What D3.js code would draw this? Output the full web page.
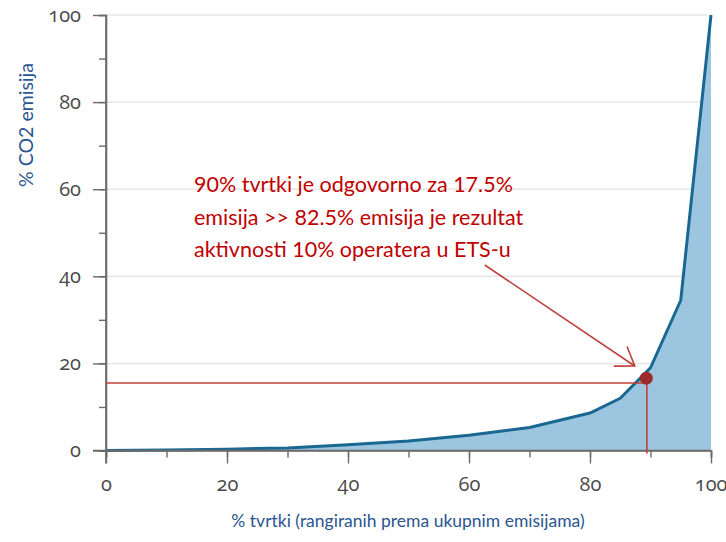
<!DOCTYPE html>
<html>
<head>
<meta charset="utf-8">
<script src="https://cdn.jsdelivr.net/npm/d3@7"></script>
<style>
  body { margin: 0; background: #fff; }
  svg { display: block; }
</style>
</head>
<body>
<div id="chart"></div>
<script>
// podaci (ocitani sa slike)
var pctTvrtki = [0, 10, 20, 30, 40, 50, 60, 70, 80, 85, 90, 95, 100];
var pctEmisija = [0, 0.1, 0.3, 0.6, 1.3, 2.2, 3.5, 5.3, 8.6, 12, 19, 34.5, 100];
var xTicks = [0, 20, 40, 60, 80, 100];
var yTicks = [0, 20, 40, 60, 80, 100];
var markPoint = [89.3, 16.6];
var refX = 89.4, refY = 15.5;
var arrowFrom = [62.6, 42.6];
var arrowTo = [87.4, 19.4];
var noteLines = ["90% tvrtki je odgovorno za 17.5%",
                 "emisija >> 82.5% emisija je rezultat",
                 "aktivnosti 10% operatera u ETS-u"];

var W = 726, H = 542;
var margin = {top: 15, right: 15, bottom: 91.5, left: 106};

var svg = d3.select("#chart").append("svg")
    .attr("width", W)
    .attr("height", H);

var x = d3.scaleLinear().domain([0, 100]).range([margin.left, W - margin.right]);
var y = d3.scaleLinear().domain([0, 100]).range([H - margin.bottom, margin.top]);

// mreza
svg.append("g")
    .selectAll("line")
    .data(yTicks.filter(function (d) { return d > 0; }))
    .enter()
    .append("line")
    .attr("x1", x(0))
    .attr("x2", x(100) - 4)
    .attr("y1", function (d) { return y(d); })
    .attr("y2", function (d) { return y(d); })
    .attr("stroke", "#e6e6e6")
    .attr("stroke-width", 1.5);

// povrsina i krivulja
var pts = pctTvrtki.map(function (d, i) { return [d, pctEmisija[i]]; });

svg.append("path")
    .datum(pts)
    .attr("fill", "#9cc6df")
    .attr("d", d3.area()
        .x(function (d) { return x(d[0]); })
        .y0(y(0))
        .y1(function (d) { return y(d[1]); }));

svg.append("path")
    .datum(pts)
    .attr("fill", "none")
    .attr("stroke", "#1a6891")
    .attr("stroke-width", 3)
    .attr("stroke-linejoin", "round")
    .attr("d", d3.line()
        .x(function (d) { return x(d[0]); })
        .y(function (d) { return y(d[1]); }));

// osi
var axisColor = "#6b6b6b";
var tickFont = "'Open Sans', 'Noto Sans', sans-serif";

var xAxis = svg.append("g")
    .attr("transform", "translate(0," + y(0) + ")")
    .call(d3.axisBottom(x).tickValues(d3.range(0, 101, 10)).tickSize(7).tickFormat(""));
var xAxisMaj = svg.append("g")
    .attr("transform", "translate(0," + y(0) + ")")
    .call(d3.axisBottom(x).tickValues(xTicks).tickSize(13).tickPadding(13));

var yAxis = svg.append("g")
    .attr("transform", "translate(" + x(0) + ",0)")
    .call(d3.axisLeft(y).tickValues(d3.range(0, 101, 10)).tickSize(7).tickFormat(""));
var yAxisMaj = svg.append("g")
    .attr("transform", "translate(" + x(0) + ",0)")
    .call(d3.axisLeft(y).tickValues(yTicks).tickSize(13).tickPadding(12));

[xAxis, xAxisMaj, yAxis, yAxisMaj].forEach(function (g) {
    g.selectAll("path.domain").attr("stroke", axisColor).attr("stroke-width", 1.6);
    g.selectAll(".tick line").attr("stroke", axisColor).attr("stroke-width", 1.4);
    g.selectAll(".tick text")
        .attr("fill", "#4a4a4a")
        .style("font-family", tickFont)
        .style("font-size", "20px")
        .style("font-feature-settings", "'onum' 1");
});
xAxisMaj.select("path.domain").attr("d", "M" + (x(0) - 13) + ",0H" + x(100));
yAxisMaj.select("path.domain").attr("d", "M0," + (y(0) + 13) + "V" + y(100));
// zadnja oznaka uz rub
xAxisMaj.selectAll(".tick text").filter(function (d) { return d === 100; })
    .attr("text-anchor", "end").attr("dx", "16px");

// referentne linije
var red = "#c0403a";
svg.append("line")
    .attr("x1", x(0)).attr("x2", x(markPoint[0]))
    .attr("y1", y(refY)).attr("y2", y(refY))
    .attr("stroke", red).attr("stroke-width", 1.6);
svg.append("line")
    .attr("x1", x(refX)).attr("x2", x(refX))
    .attr("y1", y(markPoint[1])).attr("y2", y(0) + 3)
    .attr("stroke", red).attr("stroke-width", 1.6);

svg.append("circle")
    .attr("cx", x(markPoint[0]))
    .attr("cy", y(markPoint[1]))
    .attr("r", 6.5)
    .attr("fill", "#9e2b2b");

// strelica
var ax1 = x(arrowFrom[0]), ay1 = y(arrowFrom[1]);
var ax2 = x(arrowTo[0]), ay2 = y(arrowTo[1]);
var ang = Math.atan2(ay2 - ay1, ax2 - ax1);
var headLen = 21, spread = 0.6;
svg.append("line")
    .attr("x1", ax1).attr("y1", ay1).attr("x2", ax2).attr("y2", ay2)
    .attr("stroke", red).attr("stroke-width", 1.6);
svg.append("path")
    .attr("d", "M" + (ax2 - headLen * Math.cos(ang - spread)) + "," + (ay2 - headLen * Math.sin(ang - spread)) +
        "L" + ax2 + "," + ay2 +
        "L" + (ax2 - headLen * Math.cos(ang + spread)) + "," + (ay2 - headLen * Math.sin(ang + spread)))
    .attr("fill", "none")
    .attr("stroke", red)
    .attr("stroke-width", 1.6);

// tekst napomene
svg.append("g")
    .selectAll("text")
    .data(noteLines)
    .enter()
    .append("text")
    .attr("x", 194)
    .attr("y", function (d, i) { return 192 + i * 32.5; })
    .attr("fill", "#c00000")
    .style("font-family", "Lato, 'Open Sans', sans-serif")
    .style("font-size", "21.5px")
    .text(function (d) { return d; });

// naslovi osi
svg.append("text")
    .attr("transform", "translate(33,125) rotate(-90)")
    .attr("text-anchor", "middle")
    .attr("fill", "#2a558f")
    .style("font-family", "Lato, 'Open Sans', sans-serif")
    .style("font-size", "19.5px")
    .text("% CO2 emisija");

svg.append("text")
    .attr("x", 408)
    .attr("y", 527)
    .attr("text-anchor", "middle")
    .attr("fill", "#2a558f")
    .style("font-family", "Lato, 'Open Sans', sans-serif")
    .style("font-size", "17.5px")
    .text("% tvrtki (rangiranih prema ukupnim emisijama)");
</script>
</body>
</html>
